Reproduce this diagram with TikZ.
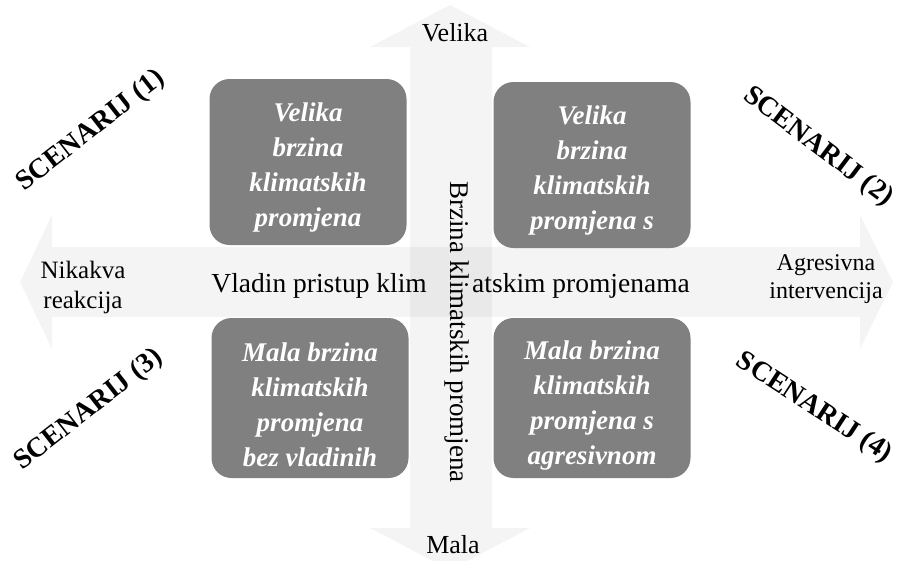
\documentclass[tikz,border=0pt]{standalone}
\usepackage{fontspec}
\setmainfont{Liberation Serif}

\begin{document}
\begin{tikzpicture}[x=1pt,y=-1pt]
      \tikzstyle{every node}+=[inner sep=0pt]
      \tikzstyle{axisfill}=[black,fill opacity=0.045]
      \tikzstyle{quad}=[fill=black!50,rounded corners=20pt,minimum width=197pt,minimum height=166pt]
      \tikzstyle{quadtext}=[text=white,align=center,font=\fontsize{27}{35}\selectfont\bfseries\itshape]
      \tikzstyle{lbl}=[align=center,font=\fontsize{25}{30}\selectfont]
      \tikzstyle{scen}=[font=\fontsize{28}{30}\selectfont\bfseries]
      \useasboundingbox (0,0) rectangle (899,560);
      % wide arrows
      \fill [axisfill] (20,282) -- (52,215) -- (52,247) -- (860,247) -- (860,215) -- (893,282)
        -- (860,349) -- (860,317) -- (52,317) -- (52,349) -- cycle;
      \fill [axisfill] (450,5) -- (530,47) -- (492,47) -- (492,528) -- (530,528) -- (450,570)
        -- (370,528) -- (410,528) -- (410,47) -- (370,47) -- cycle;
      % quadrants
      \node [quad] (q1) at (308,162) {};
      \node [quad] (q2) at (592,165) {};
      \node [quad,minimum height=160pt] (q3) at (310,398) {};
      \node [quad,minimum height=160pt] (q4) at (592,398) {};
      \node [quadtext] (t1) at ([yshift=-6pt]q1) {Velika\\brzina\\klimatskih\\promjena};
      \node [quadtext] (t2) at ([yshift=-6pt]q2) {Velika\\brzina\\klimatskih\\promjena s};
      \node [quadtext] (t3) at ([yshift=-7pt]q3) {Mala brzina\\klimatskih\\promjena\\bez vladinih};
      \node [quadtext] (t4) at ([yshift=-7pt]q4) {Mala brzina\\klimatskih\\promjena s\\agresivnom};
      % axis labels
      \node [lbl,font=\fontsize{26}{30}\selectfont] (top) at (455,33) {Velika};
      \node [lbl,font=\fontsize{26}{30}\selectfont] (bot) at (453,545) {Mala};
      \node [lbl] (left) at (83,287) {Nikakva\\reakcija};
      \node [lbl,font=\fontsize{24}{28}\selectfont] (right) at (826,279) {Agresivna\\intervencija};
      \node [lbl,anchor=base east,font=\fontsize{27.5}{30}\selectfont] (hl) at (427,292) {Vladin pristup klim};
      \node [lbl,anchor=base west,font=\fontsize{27.5}{30}\selectfont] (hr) at (472,292) {atskim promjenama};
      \node [lbl,rotate=-90,font=\fontsize{27}{30}\selectfont] (vl) at (457,332) {Brzina klimatskih promjena};
      % scenarios
      \node [scen,rotate=38] (s1) at (91,131) {SCENARIJ (1)};
      \node [scen,rotate=-37] (s2) at (818,147) {SCENARIJ (2)};
      \node [scen,rotate=38] (s3) at (89,410) {SCENARIJ (3)};
      \node [scen,rotate=-33] (s4) at (814,408) {SCENARIJ (4)};
\end{tikzpicture}
\end{document}
